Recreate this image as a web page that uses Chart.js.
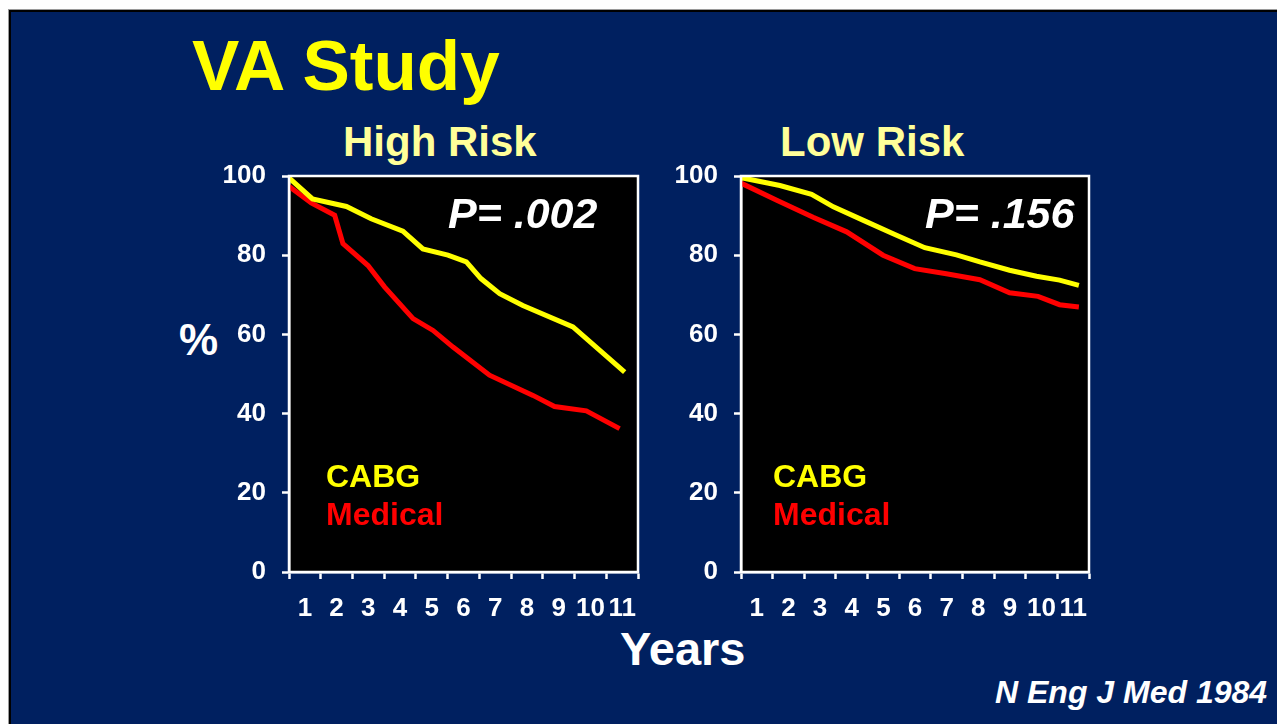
<!DOCTYPE html>
<html>
<head>
<meta charset="utf-8">
<script src="https://cdn.jsdelivr.net/npm/chart.js@4/dist/chart.umd.min.js"></script>
<style>
  html, body { margin: 0; padding: 0; background: #ffffff; width: 1277px; height: 724px; overflow: hidden; }
  body { position: relative; font-family: "Liberation Sans", Arial, sans-serif; }
  .edge { position: absolute; left: 8px; top: 9px; right: 0; bottom: 0; background: #9a9a9a; }
  .shadow { position: absolute; left: 9px; top: 10px; right: 0; bottom: 0; background: #000000; }
  .slide { position: absolute; left: 11px; top: 12px; right: 0; bottom: 0; background: #002060; }
  .txt { position: absolute; line-height: 1; font-weight: bold; white-space: nowrap; }
  canvas { position: absolute; }
</style>
</head>
<body>
<div class="edge"></div>
<div class="shadow"></div>
<div class="slide"></div>

<div class="txt" style="left:192px; top:30px; font-size:71px; color:#ffff00;">VA Study</div>
<div class="txt" style="left:343px; top:121px; font-size:42px; color:#ffff99;">High Risk</div>
<div class="txt" style="left:780px; top:121px; font-size:42px; color:#ffff99;">Low Risk</div>
<div class="txt" style="left:179px; top:318px; font-size:44px; color:#ffffff;">%</div>
<div class="txt" style="left:620px; top:625px; font-size:47px; color:#ffffff;">Years</div>
<div class="txt" style="left:995px; top:676px; font-size:32px; color:#ffffff; font-style:italic;">N Eng J Med 1984</div>

<canvas id="highRisk" width="460" height="480" style="left:200px; top:150px;"></canvas>
<canvas id="lowRisk" width="460" height="480" style="left:652px; top:150px;"></canvas>

<div class="txt" style="left:448px; top:192px; font-size:43px; color:#ffffff; font-style:italic;">P= .002</div>
<div class="txt" style="left:925px; top:192px; font-size:43px; color:#ffffff; font-style:italic;">P= .156</div>
<div class="txt" style="left:326px; top:460px; font-size:32px; color:#ffff00;">CABG</div>
<div class="txt" style="left:326px; top:498px; font-size:32px; color:#ff0000;">Medical</div>
<div class="txt" style="left:773px; top:460px; font-size:32px; color:#ffff00;">CABG</div>
<div class="txt" style="left:773px; top:498px; font-size:32px; color:#ff0000;">Medical</div>

<script>
// Year labels shown under each interval
const yearLabels = ['1', '2', '3', '4', '5', '6', '7', '8', '9', '10', '11'];

// High risk group: survival (%) by follow-up year
const highCabgYears = [0, 0.74, 1.81, 2.59, 3.59, 4.22, 5.01, 5.59, 6.05, 6.64, 7.37, 8.95, 10.58];
const highCabgSurvival = [99.5, 94.2, 92.3, 89.2, 86.1, 81.6, 80.0, 78.3, 74.1, 70.3, 67.3, 61.9, 50.5];
const highMedicalYears = [0, 0.7, 1.44, 1.7, 2.49, 3.01, 3.91, 4.54, 5.17, 6.32, 7.69, 8.37, 9.37, 10.42];
const highMedicalSurvival = [97.4, 93.2, 90.1, 82.9, 77.4, 72.0, 64.0, 61.0, 56.8, 49.7, 44.6, 41.8, 40.7, 36.2];

// Low risk group: survival (%) by follow-up year
const lowCabgYears = [0, 1.23, 2.23, 2.92, 3.87, 4.81, 5.81, 6.81, 7.55, 8.49, 9.34, 10.07, 10.68];
const lowCabgSurvival = [99.6, 97.6, 95.4, 92.2, 88.8, 85.4, 81.9, 80.1, 78.3, 76.2, 74.7, 73.7, 72.4];
const lowMedicalYears = [0, 1.13, 2.28, 3.34, 4.49, 5.49, 6.49, 7.55, 8.49, 9.39, 10.07, 10.68];
const lowMedicalSurvival = [98.2, 93.9, 89.6, 85.9, 80.0, 76.6, 75.3, 73.8, 70.5, 69.6, 67.5, 66.9];

Chart.defaults.font.family = '"Liberation Sans", Arial, sans-serif';
Chart.defaults.font.weight = 'bold';
Chart.defaults.color = '#ffffff';

const toPoints = (xs, ys) => xs.map((x, i) => ({ x: x, y: ys[i] }));

// Black plot area with a white frame
const plotFrame = {
  id: 'plotFrame',
  beforeDraw(chart) {
    const a = chart.chartArea, ctx = chart.ctx;
    ctx.save();
    ctx.fillStyle = '#000000';
    ctx.fillRect(a.left, a.top, a.right - a.left, a.bottom - a.top);
    ctx.restore();
  },
  afterDraw(chart) {
    const a = chart.chartArea, ctx = chart.ctx;
    ctx.save();
    ctx.strokeStyle = '#ffffff';
    ctx.lineWidth = 2.5;
    ctx.strokeRect(a.left, a.top, a.right - a.left, a.bottom - a.top);
    ctx.restore();
  }
};

function makeChart(id, cabg, medical, padRight) {
  return new Chart(document.getElementById(id), {
    type: 'line',
    data: {
      datasets: [
        { label: 'CABG', data: cabg, borderColor: '#ffff00', borderWidth: 5, pointRadius: 0, tension: 0, borderJoinStyle: 'miter' },
        { label: 'Medical', data: medical, borderColor: '#ff0000', borderWidth: 5, pointRadius: 0, tension: 0, borderJoinStyle: 'miter' }
      ]
    },
    options: {
      responsive: false,
      animation: false,
      layout: { padding: { top: 26, right: padRight, left: 0, bottom: 0 } },
      plugins: { legend: { display: false }, tooltip: { enabled: false } },
      scales: {
        x: {
          type: 'linear', position: 'bottom', weight: 0,
          min: 0, max: 11,
          ticks: { display: false, stepSize: 1 },
          grid: { drawOnChartArea: false, drawTicks: true, tickLength: 7, tickWidth: 2.5, tickColor: '#ffffff', color: '#ffffff' },
          border: { display: true, color: '#ffffff', width: 2.5 },
          afterFit(s) { s.height = 8; s.paddingLeft = 0; s.paddingRight = 0; }
        },
        years: {
          type: 'category', position: 'bottom', weight: 1,
          labels: yearLabels, offset: true,
          grid: { display: false },
          border: { display: false },
          ticks: { color: '#ffffff', font: { size: 26, weight: 'bold' }, padding: 5, maxRotation: 0, autoSkip: false },
          afterFit(s) { s.height = 50; s.paddingLeft = 0; s.paddingRight = 0; }
        },
        y: {
          type: 'linear', position: 'left',
          min: 0, max: 100,
          ticks: { stepSize: 20, color: '#ffffff', font: { size: 26, weight: 'bold' }, padding: 16 },
          grid: { drawOnChartArea: false, drawTicks: true, tickLength: 7, tickWidth: 2.5, tickColor: '#ffffff', color: '#ffffff' },
          border: { display: true, color: '#ffffff', width: 2.5 },
          afterFit(s) { s.width = 89; s.paddingTop = 0; s.paddingBottom = 0; }
        }
      }
    },
    plugins: [plotFrame]
  });
}

makeChart('highRisk', toPoints(highCabgYears, highCabgSurvival), toPoints(highMedicalYears, highMedicalSurvival), 22);
makeChart('lowRisk', toPoints(lowCabgYears, lowCabgSurvival), toPoints(lowMedicalYears, lowMedicalSurvival), 23);
</script>
</body>
</html>
